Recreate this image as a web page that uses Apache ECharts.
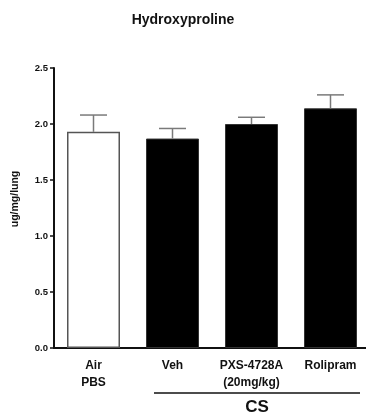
<!DOCTYPE html>
<html>
<head>
<meta charset="utf-8">
<script src="https://cdn.jsdelivr.net/npm/echarts@6/dist/echarts.min.js"></script>
<style>
  html, body { margin: 0; padding: 0; background: #fff; }
  #chart { width: 366px; height: 417px; }
</style>
</head>
<body>
<div id="chart"></div>
<script>
const categories = ['Air\nPBS', 'Veh', 'PXS-4728A\n(20mg/kg)', 'Rolipram']
const means = [1.93, 1.87, 2.00, 2.14]
const sem = [0.15, 0.09, 0.06, 0.12]
const yTicks = [0, 0.5, 1.0, 1.5, 2.0, 2.5]

const font = 'Liberation Sans, Arial, sans-serif'

const chart = echarts.init(document.getElementById('chart'))

chart.setOption({
  animation: false,
  title: {
    text: 'Hydroxyproline',
    left: 'center',
    top: 8,
    textStyle: { fontFamily: font, fontSize: 14, fontWeight: 'bold', color: '#111' },
  },
  grid: { left: 54, right: -4, top: 68, bottom: 69, outerBoundsMode: 'none' },
  xAxis: {
    type: 'category',
    data: categories,
    axisLine: { lineStyle: { color: '#111', width: 2 } },
    axisTick: { alignWithLabel: true, length: 4, lineStyle: { color: '#111', width: 1.5 } },
    axisLabel: {
      interval: 0,
      hideOverlap: false,
      margin: 9,
      fontFamily: font,
      fontSize: 12,
      fontWeight: 'bold',
      lineHeight: 17,
      color: '#111',
    },
  },
  yAxis: {
    type: 'value',
    min: yTicks[0],
    max: yTicks[yTicks.length - 1],
    interval: 0.5,
    name: 'ug/mg/lung',
    nameLocation: 'middle',
    nameGap: 33,
    nameTextStyle: { fontFamily: font, fontSize: 10.5, fontWeight: 'bold', color: '#111', padding: [0, 0, 0, 18] },
    splitLine: { show: false },
    axisLine: { show: true, lineStyle: { color: '#111', width: 2 } },
    axisTick: { show: true, length: 4, lineStyle: { color: '#111', width: 1.5 } },
    axisLabel: {
      margin: 6,
      fontFamily: font,
      fontSize: 9.5,
      fontWeight: 'bold',
      color: '#111',
      formatter: (v) => v.toFixed(1),
    },
  },
  series: [
    {
      type: 'bar',
      barWidth: 53,
      data: means.map((v, i) => ({
        value: v,
        itemStyle: i === 0
          ? { color: '#fff', borderColor: '#555', borderWidth: 1.5 }
          : { color: '#000', borderColor: '#333', borderWidth: 1 },
      })),
      z: 2,
    },
    {
      type: 'custom',
      z: 3,
      data: means.map((v, i) => [i, v, v + sem[i]]),
      renderItem: (params, api) => {
        const base = api.coord([api.value(0), api.value(1)])
        const top = api.coord([api.value(0), api.value(2)])
        const half = 13.5
        const style = { stroke: '#7a7a7a', lineWidth: 1.5 }
        return {
          type: 'group',
          children: [
            { type: 'line', shape: { x1: base[0], y1: base[1], x2: top[0], y2: top[1] }, style },
            { type: 'line', shape: { x1: top[0] - half, y1: top[1], x2: top[0] + half, y2: top[1] }, style },
          ],
        }
      },
    },
  ],
  graphic: [
    {
      type: 'line',
      shape: { x1: 154, y1: 393, x2: 360, y2: 393 },
      style: { stroke: '#111', lineWidth: 1.5 },
    },
    {
      type: 'text',
      x: 257,
      y: 407,
      style: {
        text: 'CS',
        fontFamily: font,
        fontSize: 17,
        fontWeight: 'bold',
        fill: '#111',
        align: 'center',
        verticalAlign: 'middle',
      },
    },
  ],
})
</script>
</body>
</html>
